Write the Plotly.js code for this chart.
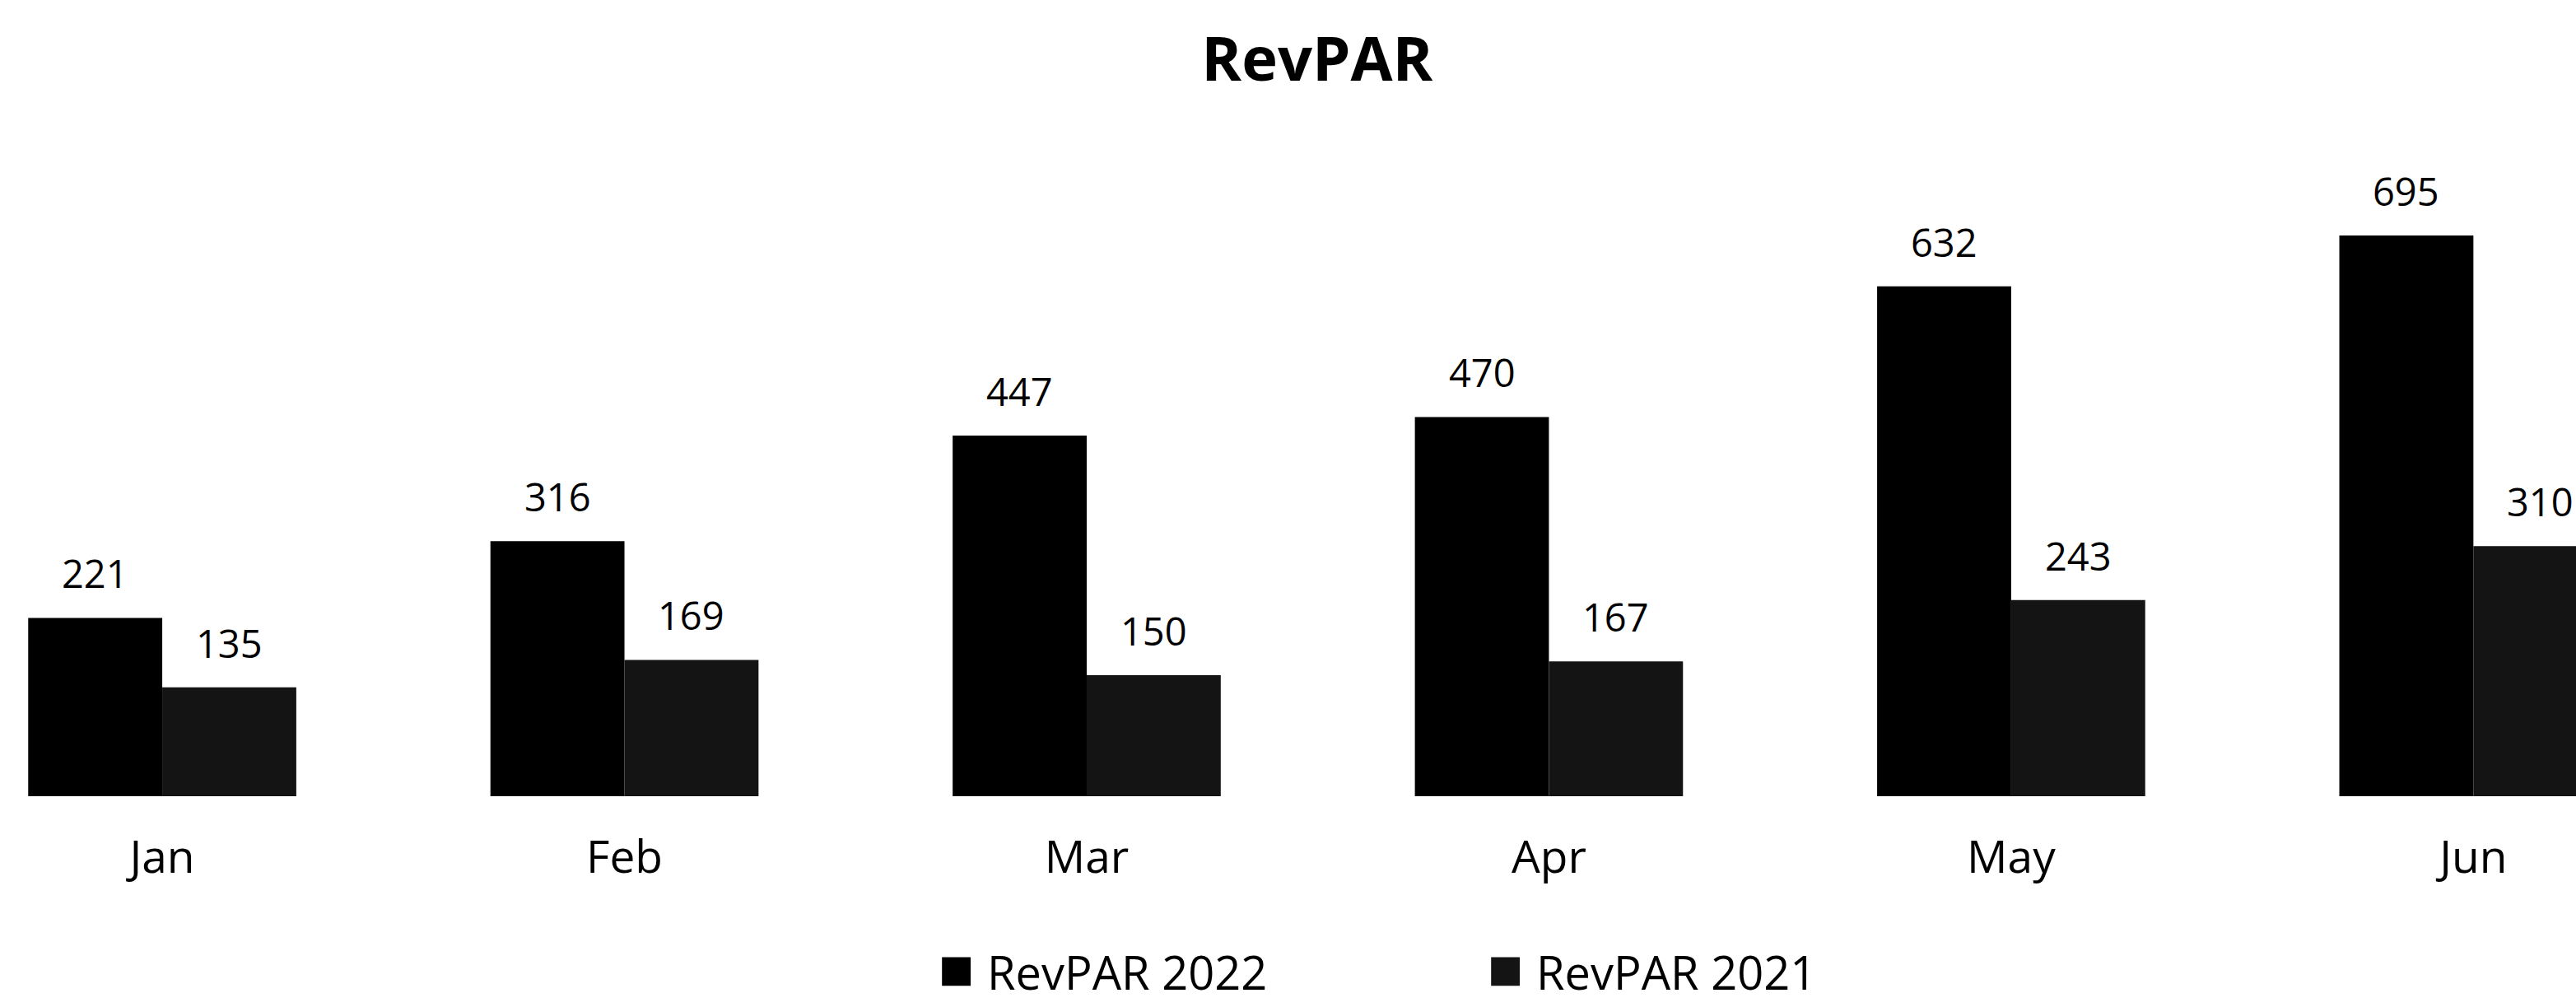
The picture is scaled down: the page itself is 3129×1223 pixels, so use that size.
<!DOCTYPE html>
<html><head><meta charset="utf-8">
<script src="https://cdn.plot.ly/plotly-3.0.1.min.js"></script>
<style>html,body{margin:0;padding:0;background:#fff}#chart{width:3129px;height:1223px}</style>
</head><body><div id="chart"></div>
<script>
const months = ['Jan', 'Feb', 'Mar', 'Apr', 'May', 'Jun'];
const revpar2022 = [221, 316, 447, 470, 632, 695];
const revpar2021 = [135, 169, 150, 167, 243, 310];
const seriesNames = ['RevPAR 2022', 'RevPAR 2021'];
const chartTitle = 'RevPAR';

const W = 3129, H = 1223;
const xRange = [-0.351, 5.222];
const bargap = 0.42;
const pxPerCat = W / (xRange[1] - xRange[0]);
const barPx = pxPerCat * (1 - bargap) / 2;
const FONT = 'Open Sans, Noto Sans, sans-serif';

function valueLabels(vals, shift) {
  return months.map((m, i) => ({
    x: m, y: vals[i], xref: 'x', yref: 'y',
    text: String(vals[i]), showarrow: false,
    xanchor: 'center', yanchor: 'bottom',
    xshift: shift, yshift: 20,
    font: {family: FONT, size: 47, color: '#000'}
  }));
}

const traces = [
  {type: 'bar', name: seriesNames[0], x: months, y: revpar2022,
   marker: {color: '#000000'}, hoverinfo: 'x+y+name'},
  {type: 'bar', name: seriesNames[1], x: months, y: revpar2021,
   marker: {color: '#141414'}, hoverinfo: 'x+y+name'}
];

const layout = {
  width: W, height: H,
  paper_bgcolor: '#fff', plot_bgcolor: '#fff',
  margin: {l: 0, r: 0, t: 232, b: 241, pad: 0},
  barmode: 'group', bargap: bargap, bargroupgap: 0,
  title: {text: '<b>' + chartTitle + '</b>', x: 0.5113, xanchor: 'center',
          y: 0.941, yanchor: 'middle', yref: 'container',
          font: {family: FONT, size: 74, color: '#000'}},
  xaxis: {type: 'category', range: xRange, showgrid: false, zeroline: false,
          showline: false, ticks: '', ticklabelstandoff: 37,
          tickfont: {family: FONT, size: 55, color: '#000'}},
  yaxis: {range: [0, 750], visible: false, fixedrange: true},
  showlegend: true,
  legend: {orientation: 'h', x: 1139 / W, xanchor: 'left', y: -0.29, yanchor: 'middle',
           itemwidth: 50, entrywidth: 602, entrywidthmode: 'pixels',
           bgcolor: 'rgba(0,0,0,0)', font: {family: FONT, size: 56, color: '#000'},
           traceorder: 'normal'},
  annotations: valueLabels(revpar2022, -barPx / 2).concat(valueLabels(revpar2021, barPx / 2))
};

Plotly.newPlot('chart', traces, layout, {displayModeBar: false, staticPlot: true}).then(() => {
  document.querySelectorAll('.legend .legendpoints path').forEach(p => {
    p.setAttribute('transform', 'translate(22.6,0) scale(2.9)');
  });
});
</script>
</body></html>
